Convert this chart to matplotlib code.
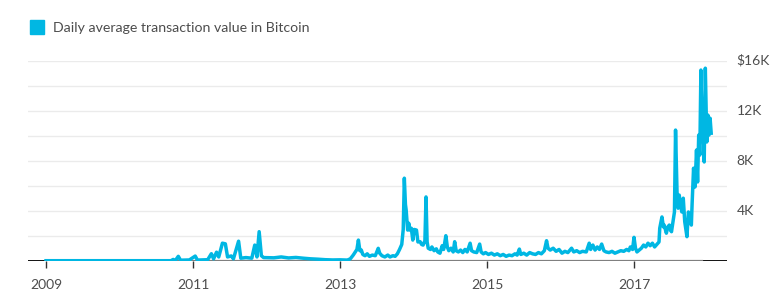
import numpy as np
import matplotlib.pyplot as plt

# Daily average transaction value in Bitcoin (USD)
years = [
    2009.00, 2010.70, 2010.73, 2010.76, 2010.80, 2010.83, 2010.95, 2011.03, 2011.06, 2011.20,
    2011.25, 2011.28, 2011.32, 2011.35, 2011.40, 2011.44, 2011.47, 2011.52, 2011.55, 2011.62,
    2011.65, 2011.72, 2011.80, 2011.84, 2011.87, 2011.90, 2011.93, 2011.96, 2012.10, 2012.20,
    2012.30, 2012.40, 2012.50, 2012.60, 2012.70, 2012.80, 2012.90, 2013.00, 2013.10, 2013.14,
    2013.18, 2013.23, 2013.25, 2013.27, 2013.29, 2013.31, 2013.34, 2013.37, 2013.40, 2013.44,
    2013.48, 2013.52, 2013.54, 2013.57, 2013.61, 2013.65, 2013.68, 2013.72, 2013.75, 2013.78,
    2013.81, 2013.84, 2013.86, 2013.875, 2013.89, 2013.90, 2013.92, 2013.935, 2013.95, 2013.97,
    2013.99, 2014.01, 2014.04, 2014.06, 2014.09, 2014.11, 2014.13, 2014.155, 2014.17, 2014.185,
    2014.20, 2014.23, 2014.25, 2014.28, 2014.31, 2014.33, 2014.36, 2014.39, 2014.41, 2014.44,
    2014.46, 2014.48, 2014.51, 2014.54, 2014.56, 2014.58, 2014.61, 2014.64, 2014.67, 2014.70,
    2014.73, 2014.77, 2014.79, 2014.82, 2014.86, 2014.90, 2014.92, 2014.95, 2014.98, 2015.02,
    2015.06, 2015.10, 2015.14, 2015.18, 2015.22, 2015.26, 2015.30, 2015.34, 2015.38, 2015.41,
    2015.44, 2015.46, 2015.50, 2015.54, 2015.58, 2015.62, 2015.66, 2015.70, 2015.74, 2015.78,
    2015.81, 2015.83, 2015.86, 2015.90, 2015.94, 2015.98, 2016.02, 2016.06, 2016.10, 2016.15,
    2016.18, 2016.22, 2016.26, 2016.30, 2016.35, 2016.39, 2016.41, 2016.44, 2016.47, 2016.50,
    2016.53, 2016.56, 2016.59, 2016.62, 2016.66, 2016.70, 2016.74, 2016.78, 2016.82, 2016.86,
    2016.90, 2016.93, 2016.95, 2016.98, 2017.00, 2017.02, 2017.04, 2017.07, 2017.10, 2017.13,
    2017.16, 2017.19, 2017.22, 2017.25, 2017.28, 2017.31, 2017.34, 2017.35, 2017.38, 2017.40,
    2017.41, 2017.44, 2017.46, 2017.48, 2017.50, 2017.51, 2017.53, 2017.55, 2017.565, 2017.585,
    2017.60, 2017.615, 2017.63, 2017.65, 2017.67, 2017.69, 2017.72, 2017.74, 2017.76, 2017.78,
    2017.79, 2017.81, 2017.83, 2017.85, 2017.865, 2017.88, 2017.895, 2017.91, 2017.925, 2017.94,
    2017.955, 2017.97, 2017.98, 2017.99, 2018.005, 2018.02, 2018.035, 2018.05,
]
values = [
    0, 0, 100, 20, 350, 40, 60, 370, 50, 80,
    560, 150, 680, 300, 1400, 1350, 300, 380, 150, 1560,
    200, 250, 200, 1250, 300, 2320, 400, 250, 230, 300,
    220, 260, 200, 150, 120, 80, 60, 70, 50, 150,
    450, 900, 1650, 800, 850, 500, 400, 550, 350, 450,
    400, 990, 600, 400, 300, 450, 300, 400, 350, 550,
    900, 1300, 2500, 6600, 4500, 4050, 2450, 3000, 2450, 2600,
    1650, 2500, 2450, 1500, 1520, 1300, 1250, 1600, 5100, 1500,
    1000, 900, 1100, 800, 950, 700, 600, 1200, 900, 2000,
    1100, 800, 1000, 700, 1520, 800, 700, 850, 650, 900,
    700, 1400, 800, 700, 650, 1330, 700, 550, 650, 500,
    600, 450, 550, 400, 500, 350, 450, 400, 550, 450,
    930, 500, 600, 450, 650, 550, 500, 650, 550, 800,
    1600, 1000, 850, 1000, 750, 900, 600, 750, 650, 1000,
    700, 800, 650, 750, 700, 1400, 900, 1250, 850, 1100,
    900, 1330, 800, 700, 650, 750, 600, 700, 800, 750,
    900, 800, 1100, 900, 1870, 1000, 700, 850, 1000, 1250,
    1100, 1400, 1200, 1400, 1100, 1300, 1500, 2600, 3500, 2700,
    2850, 2200, 2700, 2850, 2400, 2320, 3120, 3900, 10450, 5500,
    4200, 5250, 4600, 3900, 5000, 3120, 1920, 3900, 3400, 2850,
    4500, 7400, 5900, 8850, 6300, 10050, 8450, 15250, 11100, 10050,
    7900, 15400, 12450, 9500, 11650, 10050, 11400, 10200,
]

x_ticks = [2009, 2011, 2013, 2015, 2017]
y_grid = [2000, 4000, 6000, 8000, 10000, 12000, 14000, 16000]
y_labels = {4000: "4K", 8000: "8K", 12000: "12K", 16000: "$16K"}

blue = "#00b7e3"
text_col = "#4d4d4d"
font = ["Lato", "DejaVu Sans"]

fig = plt.figure(figsize=(7.82, 2.94), dpi=100)
ax = fig.add_axes([28 / 782, 33.3 / 294, 699 / 782, 200 / 294])

for g in y_grid:
    ax.axhline(g, color="#ebebeb", lw=1.0, zorder=0)
ax.axhline(0, color="#111111", lw=1.4, zorder=1)
ax.plot([2009, 2017.92], [0, 0], color="#808080", lw=1.6, zorder=2)

ax.plot(years, values, color=blue, lw=2.5, solid_joinstyle="round", zorder=3)

ax.set_xlim(2008.755, 2018.265)
ax.set_ylim(0, 16000)
for s in ax.spines.values():
    s.set_visible(False)
ax.set_yticks([])
ax.set_xticks(x_ticks)
ax.set_xticklabels([str(t) for t in x_ticks], family=font, fontsize=10, color=text_col)
ax.tick_params(axis="x", length=5, width=1, color="#333333", pad=8)

for v, lab in y_labels.items():
    ax.text(1.0135, v, lab, transform=ax.get_yaxis_transform(), ha="left", va="center",
            family=font, fontsize=10, color=text_col)

# legend swatch + label
fig.patches.append(plt.Rectangle((30 / 782, 1 - 34 / 294), 14 / 782, 14 / 294,
                                 transform=fig.transFigure, color=blue, figure=fig))
fig.text(53 / 782, 1 - 27.5 / 294, "Daily average transaction value in Bitcoin",
         family=font, fontsize=10.2, color=text_col, va="center", ha="left")

fig.savefig("out.png", dpi=100)
